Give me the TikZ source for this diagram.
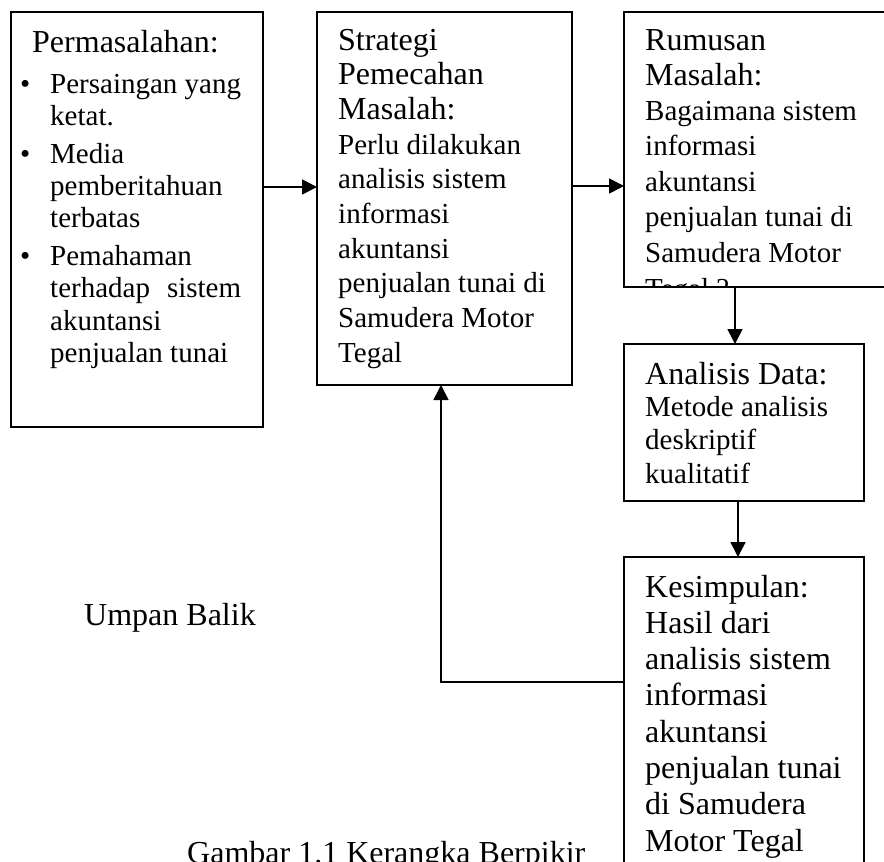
\documentclass[tikz,border=0pt]{standalone}
\usepackage{fontspec}
\setmainfont{Liberation Serif}
\usetikzlibrary{arrows.meta}
\begin{document}
\begin{tikzpicture}[x=1pt,y=-1pt,
  boxs/.style={draw, line width=1.7pt, rectangle, inner sep=0pt, outer sep=0pt},
  arr/.style={line width=1.7pt, -{Triangle[length=15pt,width=15pt]}},
  headt/.style={font=\fontsize{32}{36}\selectfont, anchor=base west, inner sep=0pt},
  bodyt/.style={font=\fontsize{29}{34}\selectfont, anchor=base west, inner sep=0pt},
  bigt/.style={font=\fontsize{32}{36}\selectfont, anchor=base west, inner sep=0pt}]
\useasboundingbox (0,0) rectangle (884,862);
\clip (0,0) rectangle (884,862);
\fill[white] (0,0) rectangle (884,862);

% boxes
\node[boxs, minimum width=252pt, minimum height=415pt] (b1) at (137,219.5) {};
\node[boxs, minimum width=255pt, minimum height=373pt] (b2) at (444.5,198.5) {};
\node[boxs, minimum width=300pt, minimum height=275pt] (b3) at (774,149.5) {};
\node[boxs, minimum width=240pt, minimum height=157pt] (b4) at (744,422.5) {};
\node[boxs, minimum width=240pt, minimum height=343pt] (b5) at (744,728.5) {};

% box 1 text
\node[headt] (t1h) at (32,52) {Permasalahan:};
\foreach \y/\n in {93/1, 163/2, 265/3} \node[bodyt] (bul\n) at (20,\y) {•};
\foreach \t/\y [count=\i] in {Persaingan yang/93, ketat./125.3, Media/163, pemberitahuan/195, terbatas/227.5, Pemahaman/265, {terhadap\hspace{17pt}sistem}/297.5, akuntansi/330, penjualan tunai/362}
  \node[bodyt] (t1l\i) at (50,\y) {\t};

% box 2 text
\foreach \t [count=\i] in {Strategi, Pemecahan, Masalah:}
  \node[headt] (t2h\i) at (338,{50+34.7*(\i-1)}) {\t};
\foreach \t [count=\i] in {Perlu dilakukan, analisis sistem, informasi, akuntansi, penjualan tunai di, Samudera Motor, Tegal}
  \node[bodyt] (t2b\i) at (338,{154.1+34.7*(\i-1)}) {\t};

% box 3 text (clipped by the box)
\begin{scope}
\clip (625,13) rectangle (884,286);
\foreach \t [count=\i] in {Rumusan, Masalah:}
  \node[headt] (t3h\i) at (645,{50+35*(\i-1)}) {\t};
\foreach \t [count=\i] in {Bagaimana sistem, informasi, akuntansi, penjualan tunai di, Samudera Motor, Tegal ?}
  \node[bodyt] (t3b\i) at (645,{120+35.6*(\i-1)}) {\t};
\end{scope}

% box 4 text
\node[headt] (t4h) at (645,384) {Analisis Data:};
\foreach \t/\y [count=\i] in {Metode analisis/416, deskriptif/449, kualitatif/483}
  \node[bodyt] (t4b\i) at (645,\y) {\t};

% box 5 text
\foreach \t [count=\i] in {Kesimpulan:, Hasil dari, analisis sistem, informasi, akuntansi, penjualan tunai, di Samudera, Motor Tegal}
  \node[bigt] (t5l\i) at (645,{597+36.3*(\i-1)}) {\t};

% free labels
\node[bigt] (ub) at (84,625) {Umpan Balik};
\node[bigt] (cap) at (187,863) {Gambar 1.1 Kerangka Berpikir};

% connectors
\coordinate (r1) at (0,187);
\coordinate (r2) at (0,186);
\coordinate (c3) at (735,0);
\coordinate (c4) at (738,0);
\coordinate (fb) at (441,682);
\draw[arr] (b1.east |- r1) -- (b2.west |- r1);
\draw[arr] (b2.east |- r2) -- (b3.west |- r2);
\draw[arr] (b3.south -| c3) -- (b4.north -| c3);
\draw[arr] (b4.south -| c4) -- (b5.north -| c4);
\draw[arr] (b5.west |- fb) -| (fb |- b2.south);
\end{tikzpicture}
\end{document}
